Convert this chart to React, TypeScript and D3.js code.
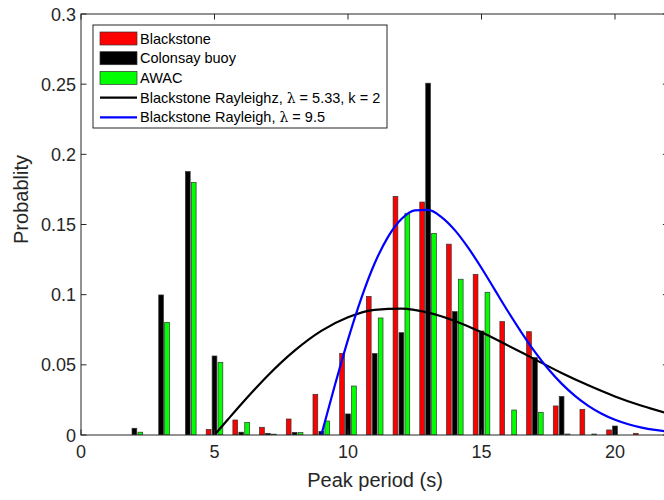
import React from "react";
import * as d3 from "d3";

const periods = [2, 3, 4, 5, 6, 7, 8, 9, 10, 11, 12, 13, 14, 15, 16, 17, 18, 19, 20, 21];
const blackstone = [0, 0, 0, 0.004, 0.0107, 0.0055, 0.0114, 0.029, 0.0582, 0.0988, 0.17, 0.166, 0.136, 0.1145, 0.0808, 0.0736, 0.0207, 0.0183, 0.0036, 0.0012];
const colonsay = [0.0048, 0.0998, 0.1877, 0.0563, 0.002, 0.0012, 0.0019, 0.0026, 0.015, 0.058, 0.0729, 0.2507, 0.0879, 0.0741, 0, 0.0551, 0.0275, 0, 0.0064, 0];
const awac = [0.002, 0.0803, 0.18, 0.0518, 0.009, 0.0006, 0.0017, 0.01, 0.0349, 0.0834, 0.158, 0.1437, 0.111, 0.1017, 0.0178, 0.0162, 0.0007, 0.0007, 0, 0];

const curveAX = [5, 5.5, 6, 6.5, 7, 8, 9, 10, 11, 12, 13, 14, 15, 16, 17, 18, 19, 20, 21, 22];
const curveAY = [0, 0.011, 0.0219, 0.0324, 0.0424, 0.0601, 0.0742, 0.0839, 0.0892, 0.0901, 0.0872, 0.0813, 0.0732, 0.0637, 0.0539, 0.0442, 0.0354, 0.0275, 0.0208, 0.0153];

const curveBX = [9, 9.5, 10, 10.5, 11, 11.5, 12, 12.5, 13, 13.5, 14, 14.5, 15, 15.5, 16, 16.5, 17, 17.5, 18, 18.5, 19, 19.5, 20, 20.5, 21, 21.5, 22];
const curveBY = [0, 0.0349, 0.068, 0.0976, 0.1224, 0.1412, 0.1539, 0.1601, 0.1604, 0.1553, 0.146, 0.1335, 0.119, 0.1034, 0.0878, 0.073, 0.0592, 0.047, 0.0366, 0.0279, 0.0208, 0.0152, 0.0109, 0.0077, 0.0053, 0.0036, 0.0024];

const xTicks = [0, 5, 10, 15, 20];
const yTicks = [0, 0.05, 0.1, 0.15, 0.2, 0.25, 0.3];

const seriesNames = ["Blackstone", "Colonsay buoy", "AWAC"];
const seriesColors = ["#ff0000", "#000000", "#00ff00"];
const lineNamesPre = ["Blackstone Rayleighz, ", "Blackstone Rayleigh, "];
const lineNamesPost = [" = 5.33, k = 2", " = 9.5"];
const lineColors = ["#000000", "#0000ff"];

const W = 664;
const H = 500;
const L = 81;
const T = 14;
const R = 668.4;
const B = 435;
const axisColor = "#262626";
const font = "'Liberation Sans', Arial, Helvetica, sans-serif";

export default function App() {
  const x = d3.scaleLinear().domain([0, 22]).range([L, R]);
  const y = d3.scaleLinear().domain([0, 0.3]).range([B, T]);
  const unit = x(1) - x(0);
  const offset = 0.2222 * unit;
  const bw = 0.178 * unit;
  const series = [blackstone, colonsay, awac];

  const lineA = d3
    .line<number>()
    .x((_, i) => x(curveAX[i]))
    .y((d) => y(d))
    .curve(d3.curveMonotoneX);
  const lineB = d3
    .line<number>()
    .x((_, i) => x(curveBX[i]))
    .y((d) => y(d))
    .curve(d3.curveMonotoneX);

  const legX = 93;
  const legY = 25;
  const legW = 294;
  const legH = 103;
  const rowY = (i: number) => legY + 13.5 + i * 19.7;

  return (
    <svg
      width={W}
      height={H}
      style={{ position: "absolute", left: 0, top: 0, background: "#fff" }}
    >
      <defs>
        <clipPath id="plot">
          <rect x={L} y={T} width={R - L} height={B - T} />
        </clipPath>
      </defs>
      <rect x={0} y={0} width={W} height={H} fill="#fff" />
      <g clipPath="url(#plot)">
        {series.map((vals, s) =>
          vals.map((v, i) => {
            if (v <= 0) return null;
            const cx = x(periods[i]) + (s - 1) * offset;
            return (
              <rect
                key={`${s}-${i}`}
                x={cx - bw / 2}
                y={y(v)}
                width={bw}
                height={y(0) - y(v)}
                fill={seriesColors[s]}
                stroke="#333"
                strokeWidth={0.7}
              />
            );
          })
        )}
        <path d={lineA(curveAY) || ""} fill="none" stroke={lineColors[0]} strokeWidth={2.2} />
        <path d={lineB(curveBY) || ""} fill="none" stroke={lineColors[1]} strokeWidth={2.2} />
      </g>
      {/* frame */}
      <rect x={L} y={T} width={R - L} height={B - T} fill="none" stroke={axisColor} strokeWidth={1} />
      {/* x ticks */}
      {xTicks.map((t) => (
        <g key={`xt${t}`}>
          <line x1={x(t)} x2={x(t)} y1={B} y2={B - 5.5} stroke={axisColor} />
          <line x1={x(t)} x2={x(t)} y1={T} y2={T + 5.5} stroke={axisColor} />
          <text
            x={x(t)}
            y={B + 23}
            textAnchor="middle"
            fontFamily={font}
            fontSize={18}
            fill={axisColor}
          >
            {t}
          </text>
        </g>
      ))}
      {yTicks.map((t) => (
        <g key={`yt${t}`}>
          <line x1={L} x2={L + 5.5} y1={y(t)} y2={y(t)} stroke={axisColor} />
          <line x1={R} x2={R - 5.5} y1={y(t)} y2={y(t)} stroke={axisColor} />
          <text
            x={L - 5}
            y={y(t) + 6.5}
            textAnchor="end"
            fontFamily={font}
            fontSize={18}
            fill={axisColor}
          >
            {String(t)}
          </text>
        </g>
      ))}
      <text
        x={375}
        y={487}
        textAnchor="middle"
        fontFamily={font}
        fontSize={20}
        fill={axisColor}
      >
        Peak period (s)
      </text>
      <text
        transform={`translate(28, ${(T + B) / 2 - 25}) rotate(-90)`}
        textAnchor="middle"
        fontFamily={font}
        fontSize={20}
        fill={axisColor}
      >
        Probablity
      </text>
      {/* legend */}
      <rect x={legX} y={legY} width={legW} height={legH} fill="#fff" stroke={axisColor} strokeWidth={1} />
      {seriesNames.map((n, i) => (
        <g key={n}>
          <rect
            x={100}
            y={rowY(i) - 6.5}
            width={37}
            height={13}
            fill={seriesColors[i]}
            stroke="#333"
            strokeWidth={0.7}
          />
          <text x={140} y={rowY(i) + 5} fontFamily={font} fontSize={14.5} fill="#000">
            {n}
          </text>
        </g>
      ))}
      {lineNamesPre.map((n, j) => {
        const i = j + 3;
        return (
          <g key={n}>
            <line x1={100} x2={137} y1={rowY(i)} y2={rowY(i)} stroke={lineColors[j]} strokeWidth={2.2} />
            <text x={140} y={rowY(i) + 5} fontFamily={font} fontSize={14.5} fill="#000">
              {n}
              <tspan fontFamily="'DejaVu Serif', serif" fontSize={14}>λ</tspan>
              {lineNamesPost[j]}
            </text>
          </g>
        );
      })}
    </svg>
  );
}
